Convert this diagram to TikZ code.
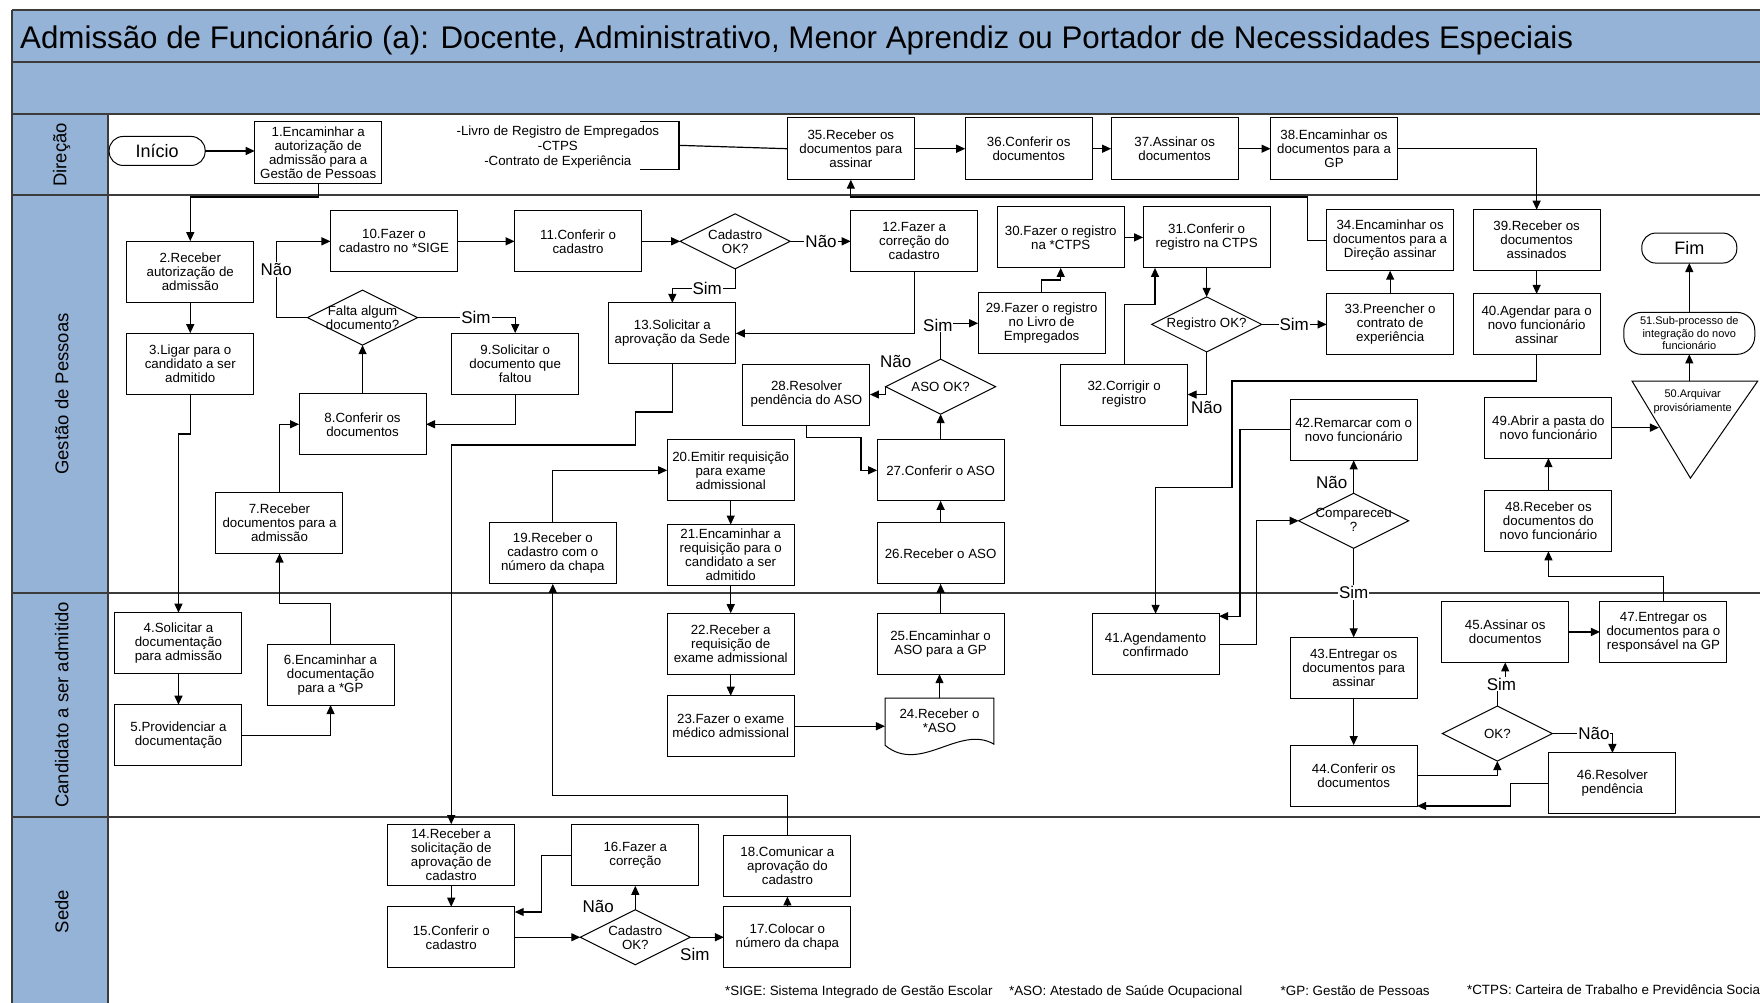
\documentclass[tikz,border=0pt]{standalone}
\usepackage{fontspec}
\setmainfont{Liberation Sans}
\usetikzlibrary{arrows.meta,shapes.geometric,calc}
\definecolor{laneblue}{RGB}{149,179,215}
\definecolor{laneline}{RGB}{60,60,60}
\begin{document}
\begin{tikzpicture}[x=1.1224pt,y=-1.1224pt,
  every node/.style={inner sep=0pt,outer sep=0pt},
  box/.style={draw,line width=1pt,fill=white,minimum width=127pt,minimum height=61pt,align=center,font=\fontsize{13.3}{14}\selectfont},
  dia/.style={draw,diamond,line width=1pt,fill=white,minimum width=110pt,minimum height=55pt},
  dtext/.style={align=center,font=\fontsize{13.3}{14}\selectfont},
  term/.style={draw,line width=1pt,fill=white,rounded corners=14pt,align=center,font=\fontsize{18}{18}\selectfont},
  arr/.style={line width=1.2pt,-{Triangle[length=9pt,width=8pt]}},
  ln/.style={line width=1.2pt},
  yn/.style={fill=white,inner sep=1pt,font=\fontsize{17}{17}\selectfont},
  lanelbl/.style={rotate=90,font=\fontsize{18.5}{18.5}\selectfont},
  foot/.style={anchor=base west,font=\fontsize{13.4}{14}\selectfont}
]
\useasboundingbox (0,0) rectangle (1568,893);
\clip (0,0) rectangle (1568,893);

% header bands and lane headers
\fill[laneblue] (11,9) rectangle (1572,102);
\fill[laneblue] (11,102) rectangle (96,900);
\draw[laneline,line width=2pt] (11,9) -- (1572,9) (11,55) -- (1572,55) (11,102) -- (1572,102)
  (11,174) -- (1572,174) (11,528) -- (1572,528) (11,728) -- (1572,728);
\draw[laneline,line width=2pt] (11,9) -- (11,900) (96,102) -- (96,900);

\node[anchor=base west,font=\fontsize{31.3}{36}\selectfont] (title) at (18,43)
  {Admissão de Funcionário (a): Docente, Administrativo, Menor Aprendiz ou Portador de Necessidades Especiais};

\node[lanelbl] (lDir) at (55,138) {Direção};
\node[lanelbl] (lGes) at (55,351) {Gestão de Pessoas};
\node[lanelbl] (lCan) at (55,628) {Candidato a ser admitido};
\node[lanelbl] (lSed) at (55,812) {Sede};

% Direção
\node[term,minimum width=96pt,minimum height=29pt] (ini) at (140,134.5) {Início};
\node[box,minimum height=62pt] (n1) at (283.5,136) {1.Encaminhar a\\autorização de\\admissão para a\\Gestão de Pessoas};
\node[align=center,font=\fontsize{13.3}{15}\selectfont] (note) at (497,131) {-Livro de Registro de Empregados\\-CTPS\\-Contrato de Experiência};
\draw[ln] (570,108) -- (605,108) -- (605,151) -- (570,151);
\coordinate (brk) at (605,129.5);
\node[box,minimum height=62pt] (n35) at (758,132.5) {35.Receber os\\documentos para\\assinar};
\node[box,minimum height=62pt] (n36) at (916.5,132.5) {36.Conferir os\\documentos};
\node[box,minimum height=62pt] (n37) at (1046.5,132.5) {37.Assinar os\\documentos};
\node[box,minimum height=62pt] (n38) at (1188.5,132.5) {38.Encaminhar os\\documentos para a\\GP};

% Gestão de Pessoas
\node[box] (n2) at (169.5,242) {2.Receber\\autorização de\\admissão};
\node[box] (n3) at (169.5,324) {3.Ligar para o\\candidato a ser\\admitido};
\node[box] (n10) at (351,215) {10.Fazer o\\cadastro no *SIGE};
\node[box] (n11) at (515,215) {11.Conferir o\\cadastro};
\node[dia] (dFalta) at (323,283) {};
\node[dtext] (tFalta) at (dFalta) {Falta algum\\documento?};
\node[box] (n9) at (459,324) {9.Solicitar o\\documento que\\faltou};
\node[box] (n8) at (323,378) {8.Conferir os\\documentos};
\node[box] (n7) at (249,466) {7.Receber\\documentos para a\\admissão};
\node[box] (n19) at (492.5,493) {19.Receber o\\cadastro com o\\número da chapa};
\node[box] (n20) at (651,419) {20.Emitir requisição\\para exame\\admissional};
\node[box] (n21) at (651,494.5) {21.Encaminhar a\\requisição para o\\candidato a ser\\admitido};
\node[box] (n13) at (599,297) {13.Solicitar a\\aprovação da Sede};
\node[dia] (dCad1) at (655,215) {};
\node[dtext] (tCad1) at (dCad1) {Cadastro\\OK?};
\node[box] (n12) at (814.5,215) {12.Fazer a\\correção do\\cadastro};
\node[box] (n28) at (718.5,351.5) {28.Resolver\\pendência do ASO};
\node[dia] (dASO) at (838,344.5) {};
\node[dtext] (tASO) at (dASO) {ASO OK?};
\node[box] (n27) at (838,419) {27.Conferir o ASO};
\node[box] (n26) at (838,493) {26.Receber o ASO};
\node[box] (n29) at (928,288) {29.Fazer o registro\\no Livro de\\Empregados};
\node[box] (n30) at (945,211.5) {30.Fazer o registro\\na *CTPS};
\node[box] (n31) at (1075,211.5) {31.Conferir o\\registro na CTPS};
\node[box] (n32) at (1001.5,351.5) {32.Corrigir o\\registro};
\node[dia] (dReg) at (1075,289) {};
\node[dtext] (tReg) at (dReg) {Registro OK?};
\node[box] (n33) at (1238.5,289) {33.Preencher o\\contrato de\\experiência};
\node[box] (n34) at (1238.5,214) {34.Encaminhar os\\documentos para a\\Direção assinar};
\node[box] (n39) at (1369,214) {39.Receber os\\documentos\\assinados};
\node[box] (n40) at (1369,289) {40.Agendar para o\\novo funcionário\\assinar};
\node[term,minimum width=95pt,minimum height=30pt] (fim) at (1505,221) {Fim};
\node[draw,line width=1pt,rounded corners=18pt,minimum width=131pt,minimum height=42pt,align=center,font=\fontsize{11}{12.5}\selectfont] (n51) at (1505,297) {51.Sub-processo de\\integração do novo\\funcionário};
\draw[line width=1pt] (1454,339.5) -- (1566,339.5) -- (1506,426) -- cycle;
\node[align=center,font=\fontsize{11}{14}\selectfont] (n50) at (1508,358) {50.Arquivar\\provisóriamente};
\coordinate (t50n) at (1505,339.5);
\coordinate (t50w) at (1478,381);
\node[box] (n49) at (1379.5,381) {49.Abrir a pasta do\\novo funcionário};
\node[box] (n48) at (1379.5,464) {48.Receber os\\documentos do\\novo funcionário};
\node[box] (n42) at (1206,383) {42.Remarcar com o\\novo funcionário};
\node[dia] (dComp) at (1206,464) {};
\node[dtext] (tComp) at (1206,463) {Compareceu\\?};
\node[box] (n41) at (1029.5,574) {41.Agendamento\\confirmado};

% Candidato a ser admitido
\node[box] (n4) at (159,573) {4.Solicitar a\\documentação\\para admissão};
\node[box] (n5) at (159,655) {5.Providenciar a\\documentação};
\node[box] (n6) at (294.5,601) {6.Encaminhar a\\documentação\\para a *GP};
\node[box] (n22) at (651,573.5) {22.Receber a\\requisição de\\exame admissional};
\node[box] (n23) at (651,647) {23.Fazer o exame\\médico admissional};
\node[box] (n25) at (838,573.5) {25.Encaminhar o\\ASO para a GP};
\draw[line width=1pt] (788.5,622) -- (885.5,622) -- (885.5,663)
  .. controls (855,645) and (820,690) .. (788.5,664) -- cycle;
\node[align=center,minimum width=109pt,minimum height=45pt,font=\fontsize{13.3}{14}\selectfont] (n24) at (837,642) {24.Receber o\\*ASO};
\node[box] (n43) at (1206,595) {43.Entregar os\\documentos para\\assinar};
\node[box] (n44) at (1206,691) {44.Conferir os\\documentos};
\node[dia] (dOK) at (1334,653.5) {};
\node[dtext] (tOK) at (dOK) {OK?};
\node[box] (n45) at (1341,563) {45.Assinar os\\documentos};
\node[box] (n47) at (1482,563) {47.Entregar os\\documentos para o\\responsável na GP};
\node[box] (n46) at (1436.5,698) {46.Resolver\\pendência};

% Sede
\node[box] (n14) at (402,761.5) {14.Receber a\\solicitação de\\aprovação de\\cadastro};
\node[box] (n15) at (402,835) {15.Conferir o\\cadastro};
\node[box] (n16) at (566,762) {16.Fazer a\\correção};
\node[dia] (dCad2) at (566,835) {};
\node[dtext] (tCad2) at (dCad2) {Cadastro\\OK?};
\node[box] (n18) at (701.5,771.5) {18.Comunicar a\\aprovação do\\cadastro};
\node[box] (n17) at (701.5,835) {17.Colocar o\\número da chapa};

% connectors
\draw[arr] (ini.east) -- (ini.east -| n1.west);
\draw[ln] (brk) -- (n35.west);
\draw[arr] (n1.south) -- (n1.south |- 0,175.5) -| (n2.north);
\draw[arr] (n2) -- (n3);
\draw[arr] (n3.south) -- (n3.south |- 0,386.6) -| (n4.north);
\draw[arr] (n4) -- (n5);
\draw[arr] (n5.east) -| (n6.south);
\draw[arr] (n6.north) -- (n6.north |- 0,538) -| (n7.south);
\draw[arr] (n7.north) |- (n8.west);
\draw[arr] (n8) -- (dFalta);
\draw[arr] (dFalta.west) -- (246,283) |- (n10.west);
\draw[arr] (dFalta.east) -| (n9.north);
\draw[arr] (n9.south) |- (n8.east);
\draw[arr] (n10) -- (n11);
\draw[arr] (n11) -- (dCad1);
\draw[arr] (dCad1) -- (n12);
\draw[arr] (dCad1.south) -- (655,256.8) -| (n13.north);
\draw[arr] (n12.south) |- (n13.east);
\draw[arr] (n13.south) -- (n13.south |- 0,367) -- (566,367) -- (566,396.5) -- (402,396.5) -- (n14.north);
\draw[arr] (n14) -- (n15);
\draw[arr] (n15) -- (dCad2);
\draw[arr] (dCad2) -- (n16);
\draw[arr] (n16.west) -| (482.5,812.5) -- (n15.east |- 0,812.5);
\draw[arr] (dCad2) -- (n17);
\draw[arr] (n17) -- (n18);
\draw[arr] (n18.north) -- (n18.north |- 0,709) -| (n19.south);
\draw[arr] (n19.north) |- (n20.west);
\draw[arr] (n20) -- (n21);
\draw[arr] (n21) -- (n22);
\draw[arr] (n22) -- (n23);
\draw[arr] (n23.east) -- (n23.east -| n24.west);
\draw[arr] (n24.north) -- (n24.north |- n25.south);
\draw[arr] (n25) -- (n26);
\draw[arr] (n26) -- (n27);
\draw[arr] (n27) -- (dASO);
\draw[arr] (dASO.west) |- (n28.east);
\draw[arr] (dASO.north) |- (n29.west);
\draw[arr] (n28.south) -- (n28.south |- 0,390) -- (767,390) |- (n27.west);
\draw[arr] (n29.north) -- (n29.north |- 0,249.5) -| (n30.south);
\draw[arr] (n30) -- (n31);
\draw[arr] (n31) -- (dReg);
\draw[arr] (dReg) -- (n33);
\draw[arr] (dReg.south) |- (n32.east);
\draw[arr] (n32.north) -- (n32.north |- 0,271) -| (n31.south -| 1029,0);
\draw[arr] (n33) -- (n34);
\draw[arr] (n34.west) -| (1164.5,175.5) -| (n35.south);
\draw[arr] (n35) -- (n36);
\draw[arr] (n36) -- (n37);
\draw[arr] (n37) -- (n38);
\draw[arr] (n38.east) -| (n39.north);
\draw[arr] (n39) -- (n40);
\draw[arr] (n40.south) -- (n40.south |- 0,339.5) -- (1097.6,339.5) -- (1097.6,434) -| (n41.north);
\draw[arr] (n41.east) -- (1119.6,574) |- (dComp.west);
\draw[arr] (dComp) -- (n42);
\draw[arr] (n42.west) -| (1104.8,549) -- (n41.east |- 0,549);
\draw[arr] (dComp) -- (n43);
\draw[arr] (n43) -- (n44);
\draw[arr] (n44.east) -| (dOK.south);
\draw[arr] (dOK.north) -- (1334,609) -| (n45.south);
\draw[arr] (dOK.east) -| (n46.north);
\draw[arr] (n46.west) -| (1346,718) -- (n44.east |- 0,718);
\draw[arr] (n45) -- (n47);
\draw[arr] (n47.north) -- (n47.north |- 0,513.8) -| (n48.south);
\draw[arr] (n48) -- (n49);
\draw[arr] (n49.east) -- (t50w);
\draw[arr] (t50n) -- (n51);
\draw[arr] (n51) -- (fim);

% branch labels
\node[yn] (lb1) at (246,240) {Não};
\node[yn] (lb2) at (424,283) {Sim};
\node[yn] (lb3) at (731.5,215) {Não};
\node[yn] (lb4) at (630,256.8) {Sim};
\node[yn] (lb5) at (798,322) {Não};
\node[yn] (lb6) at (835.5,289.6) {Sim};
\node[yn] (lb7) at (1153,289) {Sim};
\node[yn] (lb8) at (1075,363) {Não};
\node[yn] (lb9) at (1186.5,430) {Não};
\node[yn] (lb10) at (1206,528) {Sim};
\node[yn] (lb11) at (1337.6,609.4) {Sim};
\node[yn] (lb12) at (1420,653.5) {Não};
\node[yn] (lb13) at (533,808) {Não};
\node[yn] (lb14) at (619,850) {Sim};

% footnotes
\node[foot] (f1) at (646,887) {*SIGE: Sistema Integrado de Gestão Escolar};
\node[foot] (f2) at (899,887) {*ASO: Atestado de Saúde Ocupacional};
\node[foot] (f3) at (1141,887) {*GP: Gestão de Pessoas};
\node[foot] (f4) at (1307,886) {*CTPS: Carteira de Trabalho e Previdência Social};
\end{tikzpicture}
\end{document}
